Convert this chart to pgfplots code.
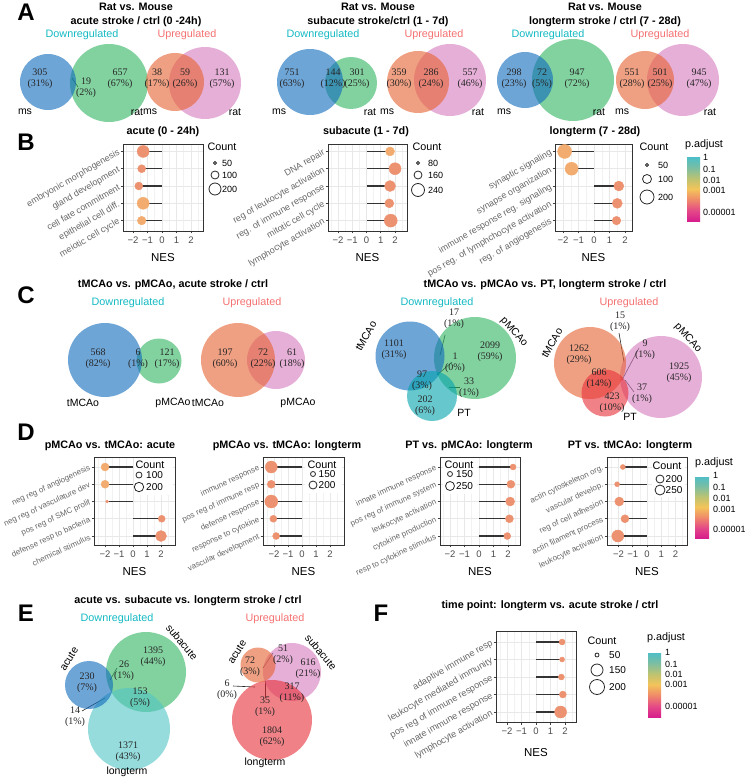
\documentclass[border=0pt]{standalone}
\usepackage{fontspec}
\setmainfont{Liberation Sans}
\newfontfamily\vennfont{Liberation Serif}
\usepackage{pgfplots}
\usepackage{pgfplotstable}
\pgfplotsset{compat=1.18}

\definecolor{vblue}{RGB}{13,105,188}
\definecolor{vgreen}{RGB}{47,180,97}
\definecolor{vorange}{RGB}{230,97,47}
\definecolor{vpink}{RGB}{213,122,188}
\definecolor{vteal}{RGB}{0,163,172}
\definecolor{vteal2}{RGB}{80,197,197}
\definecolor{vred}{RGB}{230,47,55}
\definecolor{downc}{RGB}{20,185,195}
\definecolor{upc}{RGB}{245,112,112}
\definecolor{cb1}{RGB}{215,30,140}
\definecolor{cb2}{RGB}{228,72,135}
\definecolor{cb3}{RGB}{240,140,105}
\definecolor{cb4}{RGB}{243,196,90}
\definecolor{cb5}{RGB}{190,195,112}
\definecolor{cb6}{RGB}{120,190,165}
\definecolor{cb7}{RGB}{75,190,200}
\pgfdeclareverticalshading{padj}{50bp}{color(0bp)=(cb1); color(8bp)=(cb2); color(17bp)=(cb3); color(25bp)=(cb4); color(33bp)=(cb5); color(42bp)=(cb6); color(50bp)=(cb7)}

\tikzset{
  vnum/.style={font=\vennfont\fontsize{10}{11}\selectfont, align=center, text=black!85, inner sep=0pt},
  slab/.style={font=\fontsize{10.5}{11}\selectfont, inner sep=0pt},
  ttl/.style={font=\bfseries\fontsize{10.8}{14}\selectfont, align=center, inner sep=0pt},
  dn/.style={font=\fontsize{10.8}{11}\selectfont, text=downc, inner sep=0pt},
  upl/.style={font=\fontsize{10.8}{11}\selectfont, text=upc, inner sep=0pt},
  plet/.style={font=\bfseries\fontsize{24}{24}\selectfont, inner sep=0pt},
  legs/.style={font=\fontsize{9}{9}\selectfont, anchor=west, inner sep=0pt},
  legm/.style={font=\fontsize{10}{10}\selectfont, anchor=west, inner sep=0pt},
  legt/.style={font=\fontsize{10.8}{10.8}\selectfont, inner sep=0pt},
  cbl/.style={font=\fontsize{9}{9}\selectfont, anchor=west, inner sep=0pt},
}

\newcommand{\venn}[4]{\addplot[only marks, mark=*, mark size=#3, mark options={fill=#4, fill opacity=0.6, draw opacity=0}] coordinates {(#1,#2)};}
\newcommand{\cnt}[3]{\addplot[only marks, mark=o, mark size=#3, mark options={draw=black!85, line width=0.8pt}] coordinates {(#1,#2)};}
\newcommand{\lead}[4]{\addplot[black!85, line width=0.6pt] coordinates {(#1,#2) (#3,#4)};}

\pgfplotsset{
  ovl/.style={at={(0pt,0pt)}, anchor=south west, scale only axis, width=744pt, height=778pt,
    xmin=0, xmax=744, ymin=0, ymax=778, y dir=reverse, hide axis, clip=false},
  lolli/.style={
    scale only axis, anchor=south west, clip=false,
    y dir=reverse, ytick={1,2,3,4,5},
    xtick={-2,-1,0,1,2}, xticklabels={−2,−1,0,1,2},
    minor xtick={-2.5,-1.5,-0.5,0.5,1.5,2.5},
    xmajorgrids=true, ymajorgrids=true, xminorgrids=true,
    major grid style={draw=black!9, line width=0.8pt},
    minor grid style={draw=black!5, line width=0.5pt},
    axis line style={draw=black!80, line width=0.9pt},
    tick align=outside, xtick pos=lower, ytick pos=left,
    major tick length=2.5pt, minor tick length=0pt,
    tick style={draw=black!75, line width=0.6pt},
    xticklabel style={font=\fontsize{9.5}{9.5}\selectfont, text=black!70, inner sep=1pt, yshift=-2.5pt},
    xlabel={NES},
    xlabel style={font=\fontsize{11.5}{11.5}\selectfont, at={(axis description cs:0.5,0)}, anchor=center, yshift=-27pt},
    colormap={dots}{rgb255=(237,146,112) rgb255=(243,172,112)},
    point meta min=0, point meta max=1,
  },
  lrot/.style 2 args={yticklabel style={rotate=#1, anchor=east, font=\fontsize{#2}{#2}\selectfont, text=black!60, inner sep=1.5pt}},
  lollicomb/.style={xcomb, draw=black!80, line width=1.3pt},
  lollidot/.style={scatter, only marks, mark=*, scatter src=explicit,
    scatter/use mapped color={draw=mapped color, fill=mapped color},
    visualization depends on={\thisrow{r}\as\rad},
    scatter/@pre marker code/.append style={/tikz/mark size=\rad}},
}

\pgfplotstableread{
y n r c
1 -1.3 6 0
2 -1.4 4 0
3 -1.6 4 0
4 -1.3 6 1
5 -1.4 4.3 1
}\Ba
\pgfplotstableread{
y n r c
1 1.65 4.5 1
2 2.0 6 0
3 1.65 5.5 0
4 1.6 4.5 0
5 1.7 6.5 0
}\Bb
\pgfplotstableread{
y n r c
1 -1.9 7 1
2 -1.45 6.5 1
3 1.6 5 0
4 1.5 5 0
5 1.45 4.3 0
}\Bc
\pgfplotstableread{
y n r c
1 -2.0 4 1
2 -2.0 4 1
3 -1.85 1.5 0
4 2.05 3.5 0
5 2.0 5.5 0
}\Da
\pgfplotstableread{
y n r c
1 -2.2 6 0
2 -2.2 4 0
3 -2.2 6.5 0
4 -2.05 3.5 0
5 -1.85 3.5 0
}\Db
\pgfplotstableread{
y n r c
1 2.35 3 0
2 2.2 4 0
3 2.15 4.5 0
4 2.1 4 0
5 1.95 3.5 0
}\Dc
\pgfplotstableread{
y n r c
1 -1.7 2.5 0
2 -2.1 2.5 0
3 -1.95 4.5 0
4 -1.55 4 0
5 -2.05 6 0
}\Dd
\pgfplotstableread{
y n r c
1 1.8 3 0
2 1.8 2.5 0
3 1.75 3 0
4 1.85 3.5 0
5 1.7 6 0
}\Fa

\begin{document}
\begin{tikzpicture}
\useasboundingbox (0,0) rectangle (744pt,778pt);

% ---------------- B ----------------
\begin{axis}[lolli, lrot={30}{9}, at={(123pt,547pt)}, width=80pt, height=87pt, xmin=-2.69, xmax=2.83, ymin=0.57, ymax=5.6,
  yticklabels={embryonic morphogenesis, gland development, cell fate commitment, epithelial cell diff., meiotic cell cycle}]
\addplot[lollicomb] table[x=n,y=y]{\Ba};
\addplot[lollidot] table[x=n,y=y,meta=c]{\Ba};
\end{axis}
\begin{axis}[lolli, lrot={30}{9}, at={(328pt,547pt)}, width=79pt, height=87pt, xmin=-2.70, xmax=2.84, ymin=0.57, ymax=5.6,
  yticklabels={DNA repair, reg of leukocyte activation, reg. of immune response, mitotic cell cycle, lymphocyte activation}]
\addplot[lollicomb] table[x=n,y=y]{\Bb};
\addplot[lollidot] table[x=n,y=y,meta=c]{\Bb};
\end{axis}
\begin{axis}[lolli, lrot={30}{9}, at={(555pt,547pt)}, width=77pt, height=87pt, xmin=-2.52, xmax=2.45, ymin=0.57, ymax=5.6,
  yticklabels={synaptic signaling, synapse organization, immune response reg. signaling, pos reg. of lymphchocyte activation, reg. of angiogenesis}]
\addplot[lollicomb] table[x=n,y=y]{\Bc};
\addplot[lollidot] table[x=n,y=y,meta=c]{\Bc};
\end{axis}

% ---------------- D ----------------
\begin{axis}[lolli, lrot={25}{8}, at={(94pt,233pt)}, width=81pt, height=88pt, xmin=-2.79, xmax=3.0, ymin=0.42, ymax=5.52,
  yticklabels={neg reg of angiogenesis, neg reg of vasculature dev, pos reg of SMC prolif, defense resp to bacteria, chemical stimulus}]
\addplot[lollicomb] table[x=n,y=y]{\Da};
\addplot[lollidot] table[x=n,y=y,meta=c]{\Da};
\end{axis}
\begin{axis}[lolli, lrot={25}{8}, at={(263pt,233pt)}, width=81pt, height=88pt, xmin=-2.79, xmax=3.0, ymin=0.42, ymax=5.52,
  yticklabels={immune response, pos reg of immune resp, defense response, response to cytokine, vascular development}]
\addplot[lollicomb] table[x=n,y=y]{\Db};
\addplot[lollidot] table[x=n,y=y,meta=c]{\Db};
\end{axis}
\begin{axis}[lolli, lrot={25}{8}, at={(440pt,233pt)}, width=80pt, height=88pt, xmin=-2.69, xmax=2.83, ymin=0.42, ymax=5.52,
  yticklabels={innate immune response, pos reg of immune system, leukocyte activation, cytokine production, resp to cytokine stimulus}]
\addplot[lollicomb] table[x=n,y=y]{\Dc};
\addplot[lollidot] table[x=n,y=y,meta=c]{\Dc};
\end{axis}
\begin{axis}[lolli, lrot={25}{8}, at={(607pt,233pt)}, width=80pt, height=88pt, xmin=-2.81, xmax=2.81, ymin=0.42, ymax=5.52,
  yticklabels={actin cytoskeleton org., vascular develop., reg of cell adhesion, actin filament process, leukocyte activation}]
\addplot[lollicomb] table[x=n,y=y]{\Dd};
\addplot[lollidot] table[x=n,y=y,meta=c]{\Dd};
\end{axis}

% ---------------- F ----------------
\begin{axis}[lolli, lrot={30}{9.2}, at={(496pt,56pt)}, width=80pt, height=91pt, xmin=-2.76, xmax=2.76, ymin=0.37, ymax=5.57,
  xlabel style={yshift=-4pt},
  yticklabels={adaptive immune resp, leukocyte mediated immunity, pos reg of immune response, innate immune response, lymphocyte activation}]
\addplot[lollicomb] table[x=n,y=y]{\Fa};
\addplot[lollidot] table[x=n,y=y,meta=c]{\Fa};
\end{axis}

% ================= overlay 1: shapes =================
\begin{axis}[ovl]
% A
\venn{109}{83}{39}{vgreen} \venn{48}{82}{28}{vblue}
\venn{205}{83}{36}{vpink} \venn{175}{82}{29}{vorange}
\venn{351}{83}{26}{vgreen} \venn{310}{82}{33}{vblue}
\venn{450}{80}{36}{vpink} \venn{418}{82}{31}{vorange}
\venn{573}{80}{41}{vgreen} \venn{525}{80}{28}{vblue}
\venn{683}{80}{36}{vpink} \venn{645}{80}{29}{vorange}
\lead{72}{78}{78}{87}
% B legends
\cnt{215}{163}{1.5} \cnt{215}{175}{4} \cnt{215}{189}{6}
\cnt{418}{163}{1.5} \cnt{418}{175}{4} \cnt{418}{190}{6.5}
\cnt{647}{165}{1.5} \cnt{647}{179}{4.5} \cnt{647}{197}{7}
\shade[shading=padj] (687,157) rectangle (700,221);
% C
\venn{159}{361}{22.5}{vgreen} \venn{105}{360}{37}{vblue}
\venn{276}{360}{29}{vpink} \venn{238}{360}{37}{vorange}
\venn{475}{358}{41}{vgreen} \venn{410}{356}{34.5}{vblue} \venn{432}{396}{25}{vteal}
\lead{440}{355}{445}{335} \lead{437}{375}{452}{362} \lead{449}{387}{460}{387}
\venn{661}{377}{41}{vpink} \venn{590}{363}{36}{vorange} \venn{605}{393}{23.5}{vred}
\lead{619}{333}{624}{362} \lead{639}{348}{622}{380} \lead{625}{380}{634}{392}
% D legends
\fill[white] (135,458) rectangle (173,495);
\fill[white] (305,458) rectangle (342,493);
\fill[white] (443,458) rectangle (477,494);
\fill[white] (652,458) rectangle (685,497);
\cnt{139}{475}{3} \cnt{139}{487}{4.7}
\cnt{313}{474}{2.5} \cnt{313}{485}{4}
\cnt{450}{474}{2.5} \cnt{450}{486}{4.5}
\cnt{660}{479}{4} \cnt{660}{490}{5}
\shade[shading=padj] (695,476) rectangle (709,538);
% E
\venn{146}{672}{40}{vgreen} \venn{129}{729}{41}{vteal2} \venn{89}{685}{24}{vblue}
\lead{110}{680}{117}{668} \lead{82}{711}{105}{698}
\venn{292}{672}{29}{vpink} \venn{272}{720}{40}{vred} \venn{258}{665}{17.5}{vorange}
\lead{273}{653}{263}{668} \lead{233}{686}{255}{687} \lead{265}{681}{265}{698}
% F legends
\cnt{597}{655}{2} \cnt{597}{670}{6} \cnt{597}{687}{7.5}
\shade[shading=padj] (648,652) rectangle (661,717);
\end{axis}

% ================= overlay 2: texts =================
\begin{axis}[ovl]
\node[plet] at (26,12) {A};
\node[plet] at (26,142) {B};
\node[plet] at (26,295) {C};
\node[plet] at (26,432) {D};
\node[plet] at (26,613) {E};
\node[plet] at (381,613) {F};

% ===== A =====
\node[ttl] at (136,15) {Rat vs. Mouse\\acute stroke / ctrl (0 -24h)};
\node[ttl] at (378,15) {Rat vs. Mouse\\subacute stroke/ctrl (1 - 7d)};
\node[ttl] at (605,15) {Rat vs. Mouse\\longterm stroke / ctrl (7 - 28d)};
\node[dn] at (82,35) {Downregulated};  \node[upl] at (187,35) {Upregulated};
\node[dn] at (323,35) {Downregulated}; \node[upl] at (434,35) {Upregulated};
\node[dn] at (548,35) {Downregulated}; \node[upl] at (660,35) {Upregulated};

\node[vnum] at (40,78.5) {305\\(31\%)};
\node[vnum] at (86,88) {19\\(2\%)};
\node[vnum] at (120,78.5) {657\\(67\%)};
\node[slab] at (25,112) {ms}; \node[slab] at (137,112) {rat};
\node[vnum] at (157,78.5) {38\\(17\%)};
\node[vnum] at (185,78.5) {59\\(26\%)};
\node[vnum] at (222,78.5) {131\\(57\%)};
\node[slab] at (150,112) {ms}; \node[slab] at (235,112) {rat};
\node[vnum] at (292,78.5) {751\\(63\%)};
\node[vnum] at (333,78.5) {144\\(12\%)};
\node[vnum] at (357,78.5) {301\\(25\%)};
\node[slab] at (279,112) {ms}; \node[slab] at (370,112) {rat};
\node[vnum] at (399,78.5) {359\\(30\%)};
\node[vnum] at (431,78.5) {286\\(24\%)};
\node[vnum] at (470,78.5) {557\\(46\%)};
\node[slab] at (387,112) {ms}; \node[slab] at (478,112) {rat};
\node[vnum] at (514,78.5) {298\\(23\%)};
\node[vnum] at (542,78.5) {72\\(5\%)};
\node[vnum] at (577,78.5) {947\\(72\%)};
\node[slab] at (504,112) {ms}; \node[slab] at (599,112) {rat};
\node[vnum] at (632,78.5) {551\\(28\%)};
\node[vnum] at (660,78.5) {501\\(25\%)};
\node[vnum] at (699,78.5) {945\\(47\%)};
\node[slab] at (622,112) {ms}; \node[slab] at (710,112) {rat};

% ===== B =====
\node[ttl] at (163,132) {acute (0 - 24h)};
\node[ttl] at (366,132) {subacute (1 - 7d)};
\node[ttl] at (595,132) {longterm (7 - 28d)};
\node[legt] at (222,147) {Count};
\node[legs] at (222,163) {50}; \node[legs] at (222,175) {100}; \node[legs] at (222,189) {200};
\node[legt] at (427,147) {Count};
\node[legs] at (428,163) {80}; \node[legs] at (428,175) {160}; \node[legs] at (428,190) {240};
\node[legt] at (654,147) {Count};
\node[legs] at (658,165) {50}; \node[legs] at (658,179) {100}; \node[legs] at (658,197) {200};
\node[legt] at (704,145) {p.adjust};
\node[cbl] at (703,157) {1}; \node[cbl] at (703,169) {0.1}; \node[cbl] at (703,180) {0.01};
\node[cbl] at (703,190) {0.001}; \node[cbl] at (703,212) {0.00001};

% ===== C =====
\node[ttl] at (173,285) {tMCAo vs. pMCAo, acute stroke / ctrl};
\node[dn] at (128,303) {Downregulated}; \node[upl] at (252,303) {Upregulated};
\node[vnum] at (98,358.5) {568\\(82\%)};
\node[vnum] at (138,358.5) {6\\(1\%)};
\node[vnum] at (167,358.5) {121\\(17\%)};
\node[slab] at (83,403) {tMCAo}; \node[slab] at (173,403) {pMCAo};
\node[vnum] at (225,358.5) {197\\(60\%)};
\node[vnum] at (263,358.5) {72\\(22\%)};
\node[vnum] at (292,358.5) {61\\(18\%)};
\node[slab] at (208,403) {tMCAo}; \node[slab] at (298,403) {pMCAo};

\node[ttl] at (545,285) {tMCAo vs. pMCAo vs. PT, longterm stroke / ctrl};
\node[dn] at (437,303) {Downregulated}; \node[upl] at (629,303) {Upregulated};
\node[vnum] at (394,350) {1101\\(31\%)};
\node[vnum] at (454,319) {17\\(1\%)};
\node[vnum] at (490,352) {2099\\(59\%)};
\node[vnum] at (455,363) {1\\(0\%)};
\node[vnum] at (422,381) {97\\(3\%)};
\node[vnum] at (469,388) {33\\(1\%)};
\node[vnum] at (425,406) {202\\(6\%)};
\node[slab, rotate=60] at (366,336) {tMCAo};
\node[slab, rotate=-48] at (514,332) {pMCAo};
\node[slab] at (464,413) {PT};
\node[vnum] at (620,322) {15\\(1\%)};
\node[vnum] at (579,355) {1262\\(29\%)};
\node[vnum] at (645,350) {9\\(1\%)};
\node[vnum] at (679,373) {1925\\(45\%)};
\node[vnum] at (599,379) {606\\(14\%)};
\node[vnum] at (642,394) {37\\(1\%)};
\node[vnum] at (612,403) {423\\(10\%)};
\node[slab, rotate=60] at (552,343) {tMCAo};
\node[slab, rotate=-48] at (688,338) {pMCAo};
\node[slab] at (630,417) {PT};

% ===== D =====
\node[ttl] at (110,446) {pMCAo vs. tMCAo: acute};
\node[ttl] at (287,446) {pMCAo vs. tMCAo: longterm};
\node[ttl] at (469,446) {PT vs. pMCAo: longterm};
\node[ttl] at (630,446) {PT vs. tMCAo: longterm};
\node[legt] at (150,465) {Count};
\node[legm] at (146,475) {100}; \node[legm] at (146,487) {200};
\node[legt] at (322,465) {Count};
\node[legm] at (318.5,474) {150}; \node[legm] at (318.5,485) {200};
\node[legt] at (459,465) {Count};
\node[legm] at (456,474) {150}; \node[legm] at (456,486) {250};
\node[legt] at (667,466) {Count};
\node[legm] at (665.5,479) {200}; \node[legm] at (665.5,490) {250};
\node[legt] at (714,463) {p.adjust};
\node[cbl] at (713,475) {1}; \node[cbl] at (713,487) {0.1}; \node[cbl] at (713,498) {0.01};
\node[cbl] at (713,509) {0.001}; \node[cbl] at (713,529) {0.00001};

% ===== E =====
\node[ttl] at (188,601) {acute vs. subacute vs. longterm stroke / ctrl};
\node[dn] at (117,619) {Downregulated}; \node[upl] at (275,619) {Upregulated};
\node[vnum] at (87,682.5) {230\\(7\%)};
\node[vnum] at (124,671) {26\\(1\%)};
\node[vnum] at (153,656.5) {1395\\(44\%)};
\node[vnum] at (140,697.5) {153\\(5\%)};
\node[vnum] at (75,717) {14\\(1\%)};
\node[vnum] at (128,752) {1371\\(43\%)};
\node[slab, rotate=58] at (69,659) {acute};
\node[slab, rotate=-50] at (182,642) {subacute};
\node[slab] at (127,772) {longterm};
\node[vnum] at (250,667) {72\\(3\%)};
\node[vnum] at (283,655) {51\\(2\%)};
\node[vnum] at (308,668.5) {616\\(21\%)};
\node[vnum] at (227,689.5) {6\\(0\%)};
\node[vnum] at (292,692.5) {317\\(11\%)};
\node[vnum] at (265,706.5) {35\\(1\%)};
\node[vnum] at (272,736.5) {1804\\(62\%)};
\node[slab, rotate=58] at (237,652) {acute};
\node[slab, rotate=-50] at (321,652) {subacute};
\node[slab] at (265,763) {longterm};

% ===== F =====
\node[ttl] at (550,606) {time point: longterm vs. acute stroke / ctrl};
\node[legt] at (602,641) {Count};
\node[legm] at (609,655) {50}; \node[legm] at (609,670) {150}; \node[legm] at (609,687) {200};
\node[legt] at (666,638) {p.adjust};
\node[cbl] at (665,652) {1}; \node[cbl] at (665,664) {0.1}; \node[cbl] at (665,674) {0.01};
\node[cbl] at (665,684) {0.001}; \node[cbl] at (665,706) {0.00001};
\end{axis}
\end{tikzpicture}
\end{document}
